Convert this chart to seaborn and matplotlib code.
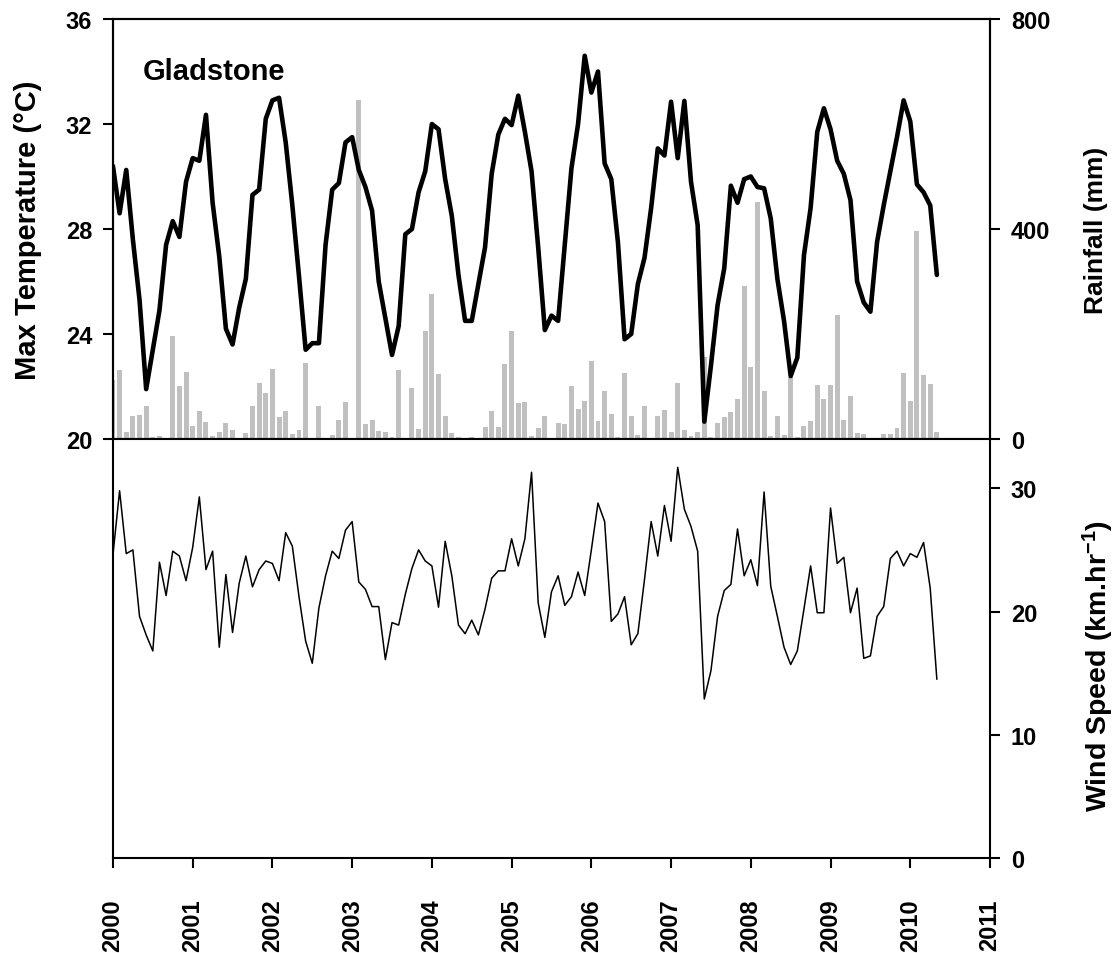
import numpy as np
import pandas as pd
import matplotlib
matplotlib.use("Agg")
import matplotlib.pyplot as plt
import seaborn as sns

# monthly series, Jan 2000 - May 2010 (Gladstone)
months = pd.date_range("2000-01-01", "2010-05-01", freq="MS")

max_temp = [30.4, 28.6, 30.25, 27.6, 25.3, 21.9, 23.4, 24.9, 27.4, 28.3, 27.7, 29.8,
            30.7, 30.6, 32.35, 29.0, 26.95, 24.2, 23.6, 25.0, 26.1, 29.3, 29.5, 32.2,
            32.9, 33.0, 31.3, 28.9, 26.2, 23.4, 23.65, 23.65, 27.4, 29.5, 29.75, 31.3,
            31.5, 30.25, 29.6, 28.7, 26.0, 24.6, 23.2, 24.3, 27.8, 28.0, 29.4, 30.2,
            32.0, 31.8, 29.9, 28.5, 26.25, 24.5, 24.5, 25.9, 27.3, 30.1, 31.6, 32.2,
            31.96, 33.08, 31.7, 30.2, 27.3, 24.15, 24.7, 24.5, 27.4, 30.3, 32.0, 34.6,
            33.2, 34.0, 30.5, 29.9, 27.5, 23.8, 24.0, 25.9, 26.9, 28.8, 31.07, 30.8,
            32.85, 30.7, 32.88, 29.8, 28.15, 20.66, 22.8, 25.1, 26.5, 29.65, 29.0, 29.9,
            30.0, 29.6, 29.55, 28.4, 26.1, 24.5, 22.4, 23.1, 27.0, 28.8, 31.7, 32.6,
            31.8, 30.6, 30.1, 29.1, 26.0, 25.2, 24.85, 27.5, 28.9, 30.2, 31.5, 32.9,
            32.1, 29.7, 29.4, 28.9, 26.25]

rainfall = [113, 131, 14, 44, 46, 63, 4, 6, 0, 196, 100, 128,
            24, 54, 32, 6, 13, 30, 18, 0, 11, 63, 106, 88,
            133, 42, 53, 9, 18, 145, 0, 62, 0, 8, 36, 70,
            0, 646, 29, 36, 15, 13, 4, 132, 0, 97, 19, 206,
            277, 123, 43, 11, 4, 0, 3, 0, 22, 53, 22, 142,
            206, 69, 71, 6, 20, 44, 0, 30, 28, 100, 57, 72,
            148, 35, 91, 47, 4, 125, 44, 8, 62, 0, 43, 56,
            13, 107, 17, 6, 14, 156, 3, 31, 41, 52, 77, 292,
            137, 451, 91, 6, 44, 8, 118, 4, 24, 35, 102, 77,
            102, 237, 36, 81, 11, 10, 0, 0, 10, 10, 20, 125,
            72, 397, 121, 104, 13]

wind_speed = [24.6, 29.8, 24.7, 25.0, 19.6, 18.1, 16.8, 24.0, 21.3, 24.9, 24.5, 22.5,
              25.2, 29.3, 23.4, 24.9, 17.1, 23.0, 18.3, 22.3, 24.5, 22.0, 23.4, 24.1,
              23.9, 22.5, 26.4, 25.3, 21.2, 17.6, 15.8, 20.3, 22.9, 24.9, 24.3, 26.6,
              27.3, 22.4, 21.8, 20.4, 20.4, 16.1, 19.1, 18.9, 21.4, 23.5, 25.0, 24.1,
              23.7, 20.35, 25.7, 22.9, 18.9, 18.2, 19.3, 18.1, 20.2, 22.7, 23.3, 23.3,
              25.9, 23.7, 25.9, 31.3, 20.7, 17.9, 21.6, 22.9, 20.5, 21.2, 23.2, 21.3,
              25.0, 28.8, 27.3, 19.2, 19.8, 21.2, 17.3, 18.2, 22.6, 27.3, 24.5, 28.6,
              25.7, 31.7, 28.3, 26.9, 24.9, 12.9, 15.2, 19.6, 21.7, 22.2, 26.7, 22.9,
              24.2, 22.1, 29.7, 22.05, 19.6, 17.1, 15.7, 16.8, 20.2, 23.7, 19.9, 19.9,
              28.4, 23.9, 24.4, 19.9, 21.9, 16.2, 16.4, 19.6, 20.4, 24.3, 24.9, 23.7,
              24.7, 24.4, 25.6, 21.9, 14.5]

year_ticks = list(range(2000, 2012))
temp_ticks = [20, 24, 28, 32, 36]
rain_ticks = [0, 400, 800]
wind_ticks = [0, 10, 20, 30]

df = pd.DataFrame({"date": months, "temp": max_temp, "rain": rainfall, "wind": wind_speed})
df["year"] = df["date"].dt.year + (df["date"].dt.month - 1) / 12

sns.set_style("ticks")
plt.rcParams["font.family"] = ["Liberation Sans", "DejaVu Sans"]
plt.rcParams["font.weight"] = "bold"
plt.rcParams["mathtext.fontset"] = "custom"
plt.rcParams["mathtext.rm"] = "Liberation Sans:bold"
plt.rcParams["mathtext.default"] = "rm"
for key in ["text.color", "axes.labelcolor", "xtick.color", "ytick.color", "axes.edgecolor"]:
    plt.rcParams[key] = "black"
plt.rcParams["axes.linewidth"] = 1.5

fig = plt.figure(figsize=(11.15, 9.54), dpi=100)
ax_top = fig.add_axes([0.1013, 0.5388, 0.7866, 0.4402])
ax_rain = ax_top.twinx()
ax_bot = fig.add_axes([0.1013, 0.0996, 0.7866, 0.4392])

# rainfall bars behind the temperature line
ax_rain.bar(df["year"], df["rain"], width=0.062, color="#c0c0c0", linewidth=0)
ax_rain.set_ylim(0, 800)
ax_rain.set_yticks(rain_ticks)
ax_rain.set_ylabel("Rainfall (mm)", fontsize=19, fontweight="bold")
ax_rain.yaxis.set_label_coords(1.107, 0.5)
ax_top.set_zorder(ax_rain.get_zorder() + 1)
ax_top.patch.set_visible(False)

sns.lineplot(data=df, x="year", y="temp", ax=ax_top, color="black", linewidth=3.3)
ax_top.set_xlim(2000, 2011)
ax_top.set_ylim(20, 36)
ax_top.set_yticks(temp_ticks)
ax_top.set_xlabel("")
ax_top.set_ylabel("Max Temperature (°C)", fontsize=21, fontweight="bold")
ax_top.yaxis.set_label_coords(-0.081, 0.5)
ax_top.tick_params(axis="x", bottom=False, labelbottom=False)
ax_top.text(0.034, 0.857, "Gladstone", transform=ax_top.transAxes,
            fontsize=21, fontweight="bold", va="baseline")

sns.lineplot(data=df, x="year", y="wind", ax=ax_bot, color="black", linewidth=1.1)
ax_bot.set_xlim(2000, 2011)
ax_bot.set_ylim(0, 34)
ax_bot.yaxis.tick_right()
ax_bot.yaxis.set_label_position("right")
ax_bot.set_yticks(wind_ticks)
ax_bot.set_ylabel("Wind Speed (km.hr$^{-1}$)", fontsize=20.5, fontweight="bold")
ax_bot.yaxis.set_label_coords(1.104, 0.46)
ax_bot.set_xlabel("")
ax_bot.set_xticks(year_ticks)
ax_bot.set_xticklabels([str(y) for y in year_ticks], rotation=90, va="top")
ax_bot.spines["top"].set_visible(False)

for ax in (ax_top, ax_rain, ax_bot):
    for s in ax.spines.values():
        s.set_linewidth(1.5)
    ax.tick_params(direction="out", length=7, width=1.5, labelsize=17, pad=8)
ax_bot.tick_params(axis="x", pad=22)

fig.savefig("out.png", dpi=100)
